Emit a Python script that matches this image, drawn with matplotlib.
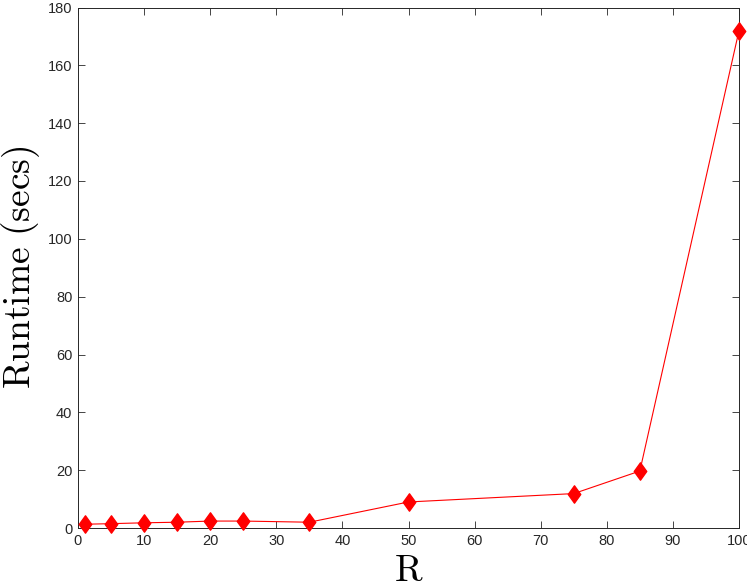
import matplotlib
matplotlib.use("Agg")
import matplotlib.pyplot as plt
from matplotlib.path import Path

R = [1, 5, 10, 15, 20, 25, 35, 50, 75, 85, 100]
runtime = [1.3, 1.5, 1.8, 2.0, 2.4, 2.4, 2.0, 9.0, 11.9, 19.7, 172.0]
xticks = list(range(0, 101, 10))
yticks = list(range(0, 181, 20))

plt.rcParams['mathtext.fontset'] = 'cm'
plt.rcParams['font.family'] = ['Liberation Sans', 'DejaVu Sans']

diamond = Path([(0, 1), (0.72, 0), (0, -1), (-0.72, 0), (0, 1)],
               [Path.MOVETO, Path.LINETO, Path.LINETO, Path.LINETO, Path.CLOSEPOLY])

fig = plt.figure(figsize=(7.47, 5.88), dpi=100)
ax = fig.add_axes([78/747, 1-528/588, (739-78)/747, (528-7.5)/588])
ax.plot(R, runtime, color='#ff0000', lw=0.8, marker=diamond, markersize=12.5,
        markerfacecolor='#ff0000', markeredgecolor='#ff0000', clip_on=False, zorder=3)
ax.set_xlim(0, 100)
ax.set_ylim(0, 180)
ax.set_xticks(xticks)
ax.set_yticks(yticks)
ax.tick_params(direction='in', length=5, width=0.6, top=True, right=True,
               labelsize=10.5, colors='#262626', pad=4)
for s in ax.spines.values():
    s.set_color('#262626')
    s.set_linewidth(0.7)
ax.set_xlabel(r'$\mathrm{R}$', fontsize=27, labelpad=4)
ax.set_ylabel(r'$\mathrm{Runtime\ (secs)}$', fontsize=27, labelpad=4)
fig.savefig('out.png', dpi=100)
